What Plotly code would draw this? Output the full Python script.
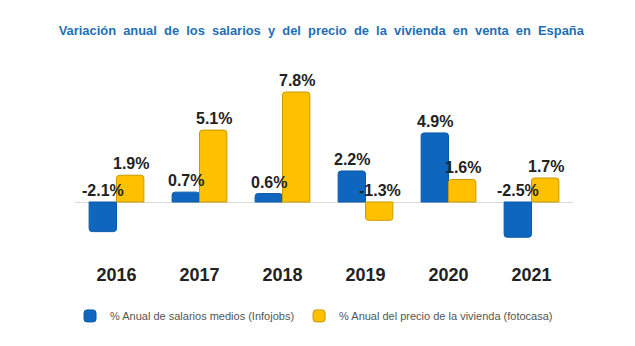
import plotly.graph_objects as go

years = ["2016", "2017", "2018", "2019", "2020", "2021"]
salarios = [-2.1, 0.7, 0.6, 2.2, 4.9, -2.5]
vivienda = [1.9, 5.1, 7.8, -1.3, 1.6, 1.7]
name_sal = "% Anual de salarios medios (Infojobs)"
name_viv = "% Anual del precio de la vivienda (fotocasa)"
title = "Variación anual de los salarios y del precio de la vivienda en venta en España"

BLUE = "#0E66BF"
YELLOW = "#FFC000"

fig = go.Figure()
fig.add_trace(go.Bar(x=years, y=salarios, name=name_sal,
                     marker=dict(color=BLUE, line=dict(color="#0B5AA8", width=1), cornerradius=3)))
fig.add_trace(go.Bar(x=years, y=vivienda, name=name_viv,
                     marker=dict(color=YELLOW, line=dict(color="#C99A00", width=1), cornerradius=3)))

for vals, shift in ((salarios, -14), (vivienda, 14)):
    for i, v in enumerate(vals):
        fig.add_annotation(x=i, y=max(v, 0), text=f"<b>{v:.1f}%</b>", showarrow=False,
                           xshift=shift, yanchor="bottom", yshift=1,
                           font=dict(family="Liberation Sans, Arial", size=16, color="#222222"))

spaced = title.replace(" ", " \u00a0")
fig.update_layout(
    width=635, height=346,
    margin=dict(l=75, r=62, t=60, b=84),
    paper_bgcolor="white", plot_bgcolor="white",
    barmode="group", bargap=0.34, bargroupgap=0,
    title=dict(text=f"<b>{spaced}</b>", x=0.506, xanchor="center", y=1 - 30 / 346, yanchor="middle",
               font=dict(family="Liberation Sans, Arial", size=12.9, color="#1F6FB5")),
    legend=dict(orientation="h", x=-0.01, xanchor="left", y=-0.267, yanchor="middle",
                font=dict(family="Liberation Sans, Arial", size=11, color="#555555"),
                itemwidth=30, traceorder="normal"),
    xaxis=dict(type="category", range=[-0.5, 5.5], showline=False, showgrid=False, ticks="",
               tickfont=dict(family="Liberation Sans, Arial", size=18, color="#222222", weight="bold")),
    yaxis=dict(range=[-60 / 14.1, 142 / 14.1], showgrid=False, showticklabels=False, ticks="",
               zeroline=True, zerolinecolor="#D9D9D9", zerolinewidth=1),
)
fig.write_html("out.html")
